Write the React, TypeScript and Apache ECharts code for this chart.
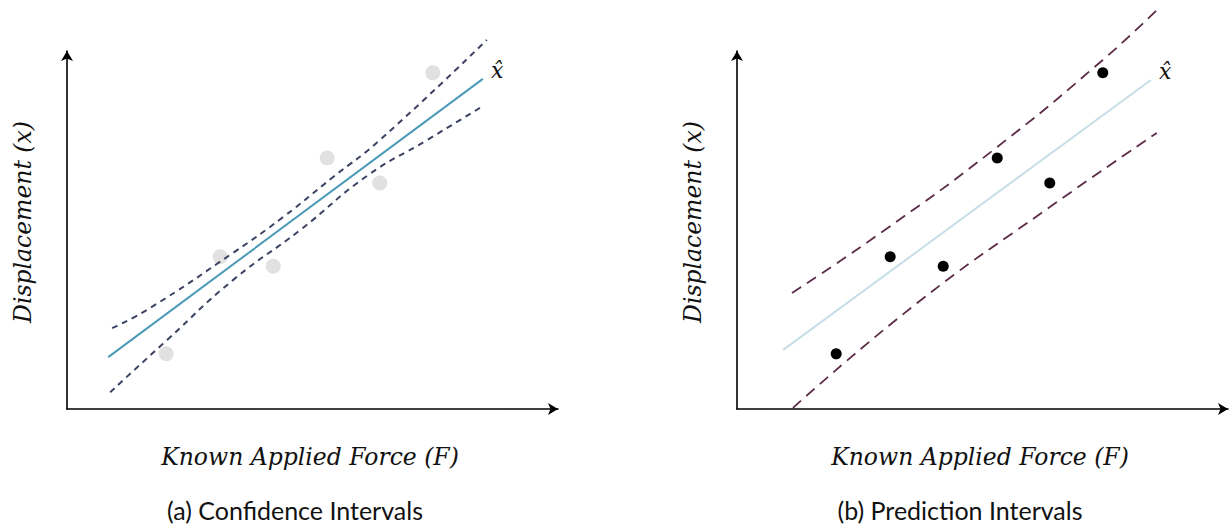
import React, { useEffect, useRef } from "react";
import * as echarts from "echarts";

// Observations (same in both panels): known applied force vs displacement
const forceObs = [20.2, 31.2, 42.0, 53.0, 63.7, 74.5];
const dispObs = [15.4, 42.5, 39.9, 70.1, 63.1, 93.9];

// (a) regression line and confidence band
const fitA: number[][] = [[8.4, 14.5], [84.7, 92.2]];
const ciUpper: number[][] = [[9.2, 22.6], [16.9, 28.2], [33.8, 43.6], [44.0, 53.6], [54.2, 64.8], [63.7, 75.1], [85.5, 103.1]];
const ciLower: number[][] = [[8.8, 4.7], [20.4, 19.3], [33.8, 36.0], [47.5, 50.0], [61.1, 65.1], [73.3, 75.1], [84.1, 84.1]];

// (b) regression line and prediction band
const fitB: number[][] = [[9.4, 16.5], [84.3, 91.9]];
const piUpper: number[][] = [[11.2, 32.4], [30.1, 50.0], [53.0, 73.2], [74.5, 97.5], [85.7, 111.7]];
const piLower: number[][] = [[11.4, 0.3], [36.7, 29.6], [63.7, 56.4], [85.5, 77.1]];

const xTitle = "Known Applied Force (F)";
const yTitle = "Displacement (x)";
const captions = ["(a) Confidence Intervals", "(b) Prediction Intervals"];
const hatLabel = "x\u0302";

export default function App() {
  const ref = useRef<HTMLDivElement>(null);
  useEffect(() => {
    if (!ref.current) return;
    const chart = echarts.init(ref.current, undefined, { renderer: "svg" });
    const pts = forceObs.map((f, i) => [f, dispObs[i]]);
    const axisCommon = {
      type: "value" as const,
      min: 0,
      max: 100,
      axisLabel: { show: false },
      axisTick: { show: false },
      splitLine: { show: false },
    };
    const axisLine = {
      show: true,
      symbol: ["none", "arrow"],
      symbolSize: [9, 10],
      lineStyle: { color: "#000", width: 1.6 },
    };
    const mathFont = "'DejaVu Serif', serif";
    const capFont = "Lato, 'Open Sans', sans-serif";
    const graphics: any[] = [];
    [0, 670].forEach((dx, k) => {
      graphics.push({
        type: "text",
        x: 310 + dx,
        y: 457,
        style: { text: xTitle, font: `italic 23.5px ${mathFont}`, fill: "#111", align: "center", verticalAlign: "middle" },
      });
      graphics.push({
        type: "text",
        x: 23 + dx,
        y: 222,
        rotation: Math.PI / 2,
        style: { text: yTitle, font: `italic 23.5px ${mathFont}`, fill: "#111", align: "center", verticalAlign: "middle" },
      });
      graphics.push({
        type: "text",
        x: (k === 0 ? 295 : 290) + dx,
        y: 510,
        style: { text: captions[k], font: `25px ${capFont}`, fill: "#111", align: "center", verticalAlign: "middle" },
      });
    });
    const hatEnd = {
      show: true,
      formatter: hatLabel,
      fontSize: 22,
      fontStyle: "italic",
      fontFamily: mathFont,
      color: "#111",
      offset: [0, -8],
    };
    chart.setOption({
      animation: false,
      grid: [
        { left: 67, top: 51, width: 491, height: 358 },
        { left: 737, top: 51, width: 491, height: 358 },
      ],
      xAxis: [
        { ...axisCommon, gridIndex: 0, axisLine },
        { ...axisCommon, gridIndex: 1, axisLine },
      ],
      yAxis: [
        { ...axisCommon, gridIndex: 0, axisLine },
        { ...axisCommon, gridIndex: 1, axisLine },
      ],
      graphic: graphics,
      series: [
        {
          type: "line", xAxisIndex: 0, yAxisIndex: 0, data: ciUpper, smooth: true, showSymbol: false, clip: false,
          lineStyle: { color: "#3b4262", width: 2, type: [6, 5] },
        },
        {
          type: "line", xAxisIndex: 0, yAxisIndex: 0, data: ciLower, smooth: true, showSymbol: false, clip: false,
          lineStyle: { color: "#3b4262", width: 2, type: [6, 5] },
        },
        {
          type: "line", xAxisIndex: 0, yAxisIndex: 0, data: fitA, showSymbol: false, clip: false,
          lineStyle: { color: "#4b9bb8", width: 2 },
          endLabel: hatEnd,
        },
        {
          type: "scatter", xAxisIndex: 0, yAxisIndex: 0, data: pts, symbolSize: 15,
          itemStyle: { color: "#d9d9d9" },
        },
        {
          type: "line", xAxisIndex: 1, yAxisIndex: 1, data: piUpper, smooth: true, showSymbol: false, clip: false,
          lineStyle: { color: "#5b2b48", width: 1.8, type: [11, 7] },
        },
        {
          type: "line", xAxisIndex: 1, yAxisIndex: 1, data: piLower, smooth: true, showSymbol: false, clip: false,
          lineStyle: { color: "#5b2b48", width: 1.8, type: [11, 7] },
        },
        {
          type: "line", xAxisIndex: 1, yAxisIndex: 1, data: fitB, showSymbol: false, clip: false,
          lineStyle: { color: "#c6dee6", width: 2 },
          endLabel: hatEnd,
        },
        {
          type: "scatter", xAxisIndex: 1, yAxisIndex: 1, data: pts, symbolSize: 11,
          itemStyle: { color: "#000", opacity: 1 },
        },
      ],
    });
    return () => chart.dispose();
  }, []);
  return (
    <div
      ref={ref}
      style={{ position: "absolute", left: 0, top: 0, width: 1231, height: 526, background: "#fff" }}
    />
  );
}
